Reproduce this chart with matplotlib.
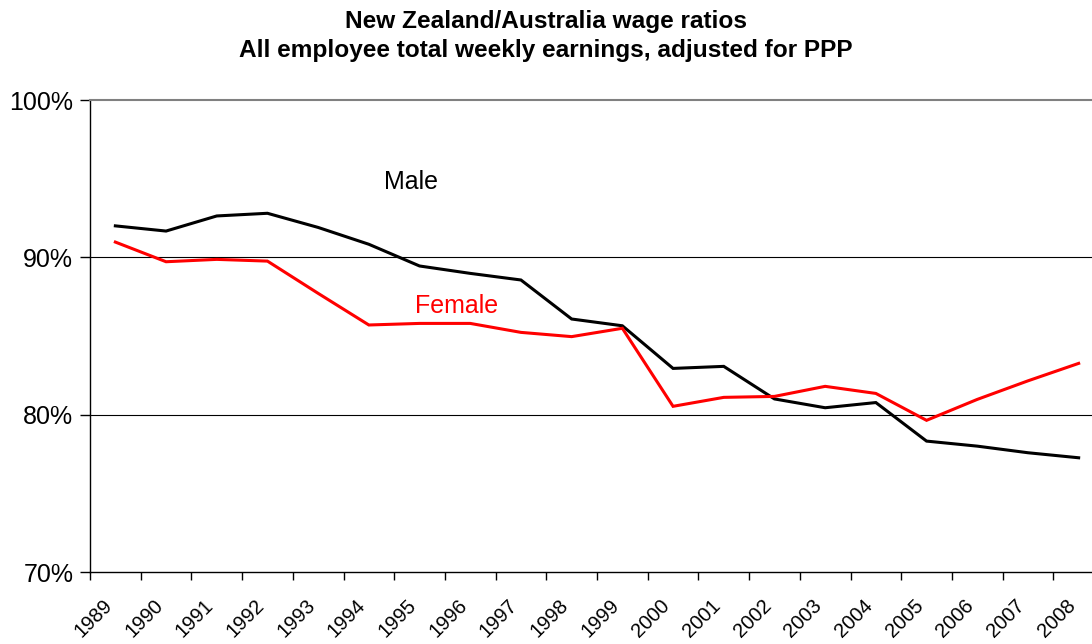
import matplotlib.pyplot as plt
from matplotlib.ticker import FixedLocator
from matplotlib.transforms import ScaledTranslation

years = [str(y) for y in range(1989, 2009)]

male = [92.0, 91.67, 92.63, 92.8, 91.9, 90.83, 89.45, 88.98, 88.56, 86.08,
        85.65, 82.94, 83.07, 81.0, 80.44, 80.77, 78.32, 78.0, 77.58, 77.26]
female = [90.97, 89.72, 89.87, 89.76, 87.71, 85.7, 85.8, 85.8, 85.23, 84.96,
          85.49, 80.53, 81.1, 81.16, 81.8, 81.35, 79.64, 80.97, 82.15, 83.26]

plt.rcParams['font.family'] = ['Liberation Sans', 'DejaVu Sans']

fig = plt.figure(figsize=(10.92, 6.44), dpi=100)
ax = fig.add_axes([90 / 1092, 1 - 572 / 644, 1014 / 1092, 472 / 644])

x = list(range(len(years)))
ax.plot(x, male, color='black', lw=2.2, solid_joinstyle='miter', zorder=3)
ax.plot(x, female, color='#ff0000', lw=2.2, solid_joinstyle='miter', zorder=3)

ax.set_xlim(-0.5, len(years) - 0.5)
ax.set_ylim(70, 100)

# y axis
ax.set_yticks([70, 80, 90, 100])
ax.set_yticklabels(['70%', '80%', '90%', '100%'], fontsize=18)
for v in [80, 90]:
    ax.axhline(v, color='black', lw=0.8, zorder=1)

# x axis: tick marks between categories, labels at centres
ax.xaxis.set_major_locator(FixedLocator([i - 0.5 for i in range(len(years) + 1)]))
ax.xaxis.set_major_formatter(plt.NullFormatter())
ax.xaxis.set_minor_locator(FixedLocator(x))
ax.set_xticklabels(years, minor=True, rotation=45, ha='right',
                   rotation_mode='anchor', fontsize=14.5)
ax.tick_params(axis='x', which='minor', length=0, pad=17)
ax.tick_params(axis='x', which='major', length=6, width=1, direction='out')
ax.tick_params(axis='y', length=7, width=1, direction='out', pad=5)
shift = ScaledTranslation(-0.13, 0, fig.dpi_scale_trans)
for lbl in ax.get_xticklabels(minor=True):
    lbl.set_transform(lbl.get_transform() + shift)

for side in ['left', 'bottom']:
    ax.spines[side].set_color('black')
    ax.spines[side].set_linewidth(1)
for side in ['top', 'right']:
    ax.spines[side].set_color('#808080')
    ax.spines[side].set_linewidth(1.5)

ax.text(5.83, 94.8, 'Male', fontsize=18, color='black', ha='center', va='center')
ax.text(6.73, 86.9, 'Female', fontsize=18, color='#ff0000', ha='center', va='center')

fig.text(0.5, 1 - 28 / 644, 'New Zealand/Australia wage ratios', ha='center',
         va='baseline', fontsize=17.6, fontweight='bold')
fig.text(0.5, 1 - 57 / 644, 'All employee total weekly earnings, adjusted for PPP',
         ha='center', va='baseline', fontsize=17.6, fontweight='bold')

fig.savefig('out.png', dpi=100)
